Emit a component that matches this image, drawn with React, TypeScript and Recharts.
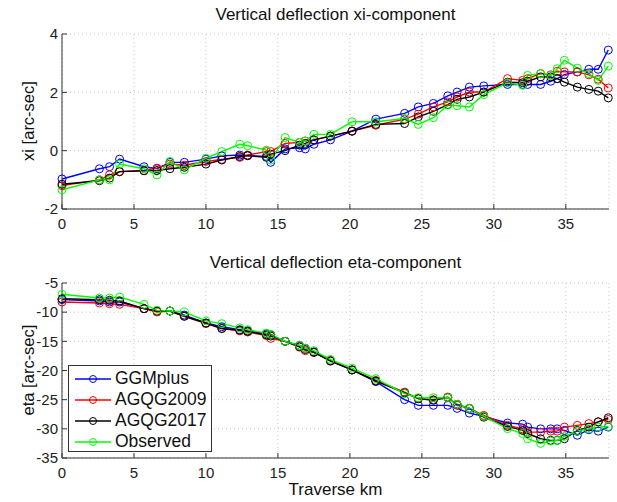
import React from 'react';
import { LineChart, Line, XAxis, YAxis, CartesianGrid } from 'recharts';

// traverse stations (km)
const km = [
  0, 2.6, 3.3, 4.0, 5.7, 6.6, 7.5, 8.5, 10.0, 11.1, 12.35, 12.9, 14.2, 14.5, 15.5, 16.5, 16.9, 17.5, 18.65, 20.15,
  21.8, 23.8, 24.75, 25.8, 26.8, 27.45, 28.3, 29.3, 30.95, 32.0, 32.35, 33.25, 33.95, 34.4, 34.9, 35.8, 36.6, 37.25, 37.95,
];

// xi-component [arc-sec]
const xiGGMplus = [
  -0.97, -0.62, -0.55, -0.29, -0.55, -0.62, -0.4, -0.4, -0.29, -0.18, -0.15, -0.17, -0.2, -0.4, 0.06, 0.1, 0.06, 0.22, 0.37, 0.67,
  1.08, 1.28, 1.5, 1.62, 1.88, 2.01, 2.18, 2.22, 2.27, 2.27, 2.27, 2.27, 2.38, 2.47, 2.61, 2.7, 2.79, 2.79, 3.45,
];
const xiAGQG2009 = [
  -1.2, -1.0, -0.83, -0.72, -0.68, -0.6, -0.46, -0.5, -0.37, -0.3, -0.23, -0.15, -0.03, -0.03, 0.25, 0.28, 0.33, 0.37, 0.5, 0.67,
  0.87, 1.08, 1.25, 1.5, 1.67, 1.84, 2.01, 2.01, 2.47, 2.41, 2.47, 2.64, 2.6, 2.72, 2.7, 2.7, 2.6, 2.45, 2.15,
];
const xiAGQG2017 = [
  -1.15, -1.03, -0.94, -0.72, -0.69, -0.68, -0.62, -0.57, -0.46, -0.32, -0.2, -0.17, -0.23, -0.12, 0.0, 0.19, 0.25, 0.37, 0.5, 0.67,
  0.9, 0.93, 1.16, 1.35, 1.58, 1.76, 1.84, 2.01, 2.35, 2.33, 2.38, 2.53, 2.53, 2.47, 2.35, 2.18, 2.1, 2.04, 1.81,
];
const xiObserved = [
  -1.34, -1.0, -1.0, -0.46, -0.62, -0.83, -0.37, -0.66, -0.26, -0.03, 0.22, 0.17, 0.02, -0.32, 0.45, 0.28, 0.33, 0.56, 0.56, 0.99,
  0.99, 1.1, 0.9, 1.13, 1.56, 1.54, 1.5, 1.92, 2.33, 2.24, 2.58, 2.64, 2.58, 2.81, 3.1, 2.83, 2.64, 2.41, 2.9,
];

// eta-component [arc-sec]
const etaGGMplus = [
  -7.85, -8.08, -8.26, -8.26, -9.4, -9.8, -9.8, -10.5, -11.86, -12.5, -13.0, -13.2, -13.7, -13.9, -15.0, -15.7, -16.2, -16.8, -18.3, -19.9,
  -21.9, -25.0, -25.97, -25.97, -25.97, -26.5, -27.3, -27.86, -29.0, -29.2, -29.7, -30.0, -30.0, -30.0, -30.27, -31.1, -30.15, -30.4, -29.7,
];
const etaAGQG2009 = [
  -8.26, -8.43, -8.55, -8.66, -9.4, -9.97, -9.8, -10.7, -11.97, -12.8, -13.2, -13.4, -14.0, -14.5, -15.0, -16.0, -16.6, -16.9, -18.3, -19.9,
  -21.7, -23.7, -24.83, -25.0, -24.55, -25.97, -26.5, -27.7, -29.4, -30.0, -30.56, -30.56, -30.4, -30.4, -29.7, -29.4, -29.1, -28.8, -28.4,
];
const etaAGQG2017 = [
  -7.7, -7.85, -7.97, -8.08, -9.4, -9.8, -9.8, -10.7, -11.86, -12.8, -13.1, -13.3, -13.9, -14.1, -15.0, -15.9, -16.4, -16.9, -18.4, -19.9,
  -21.8, -23.85, -24.83, -25.1, -24.66, -25.8, -26.5, -28.0, -29.6, -30.27, -30.8, -31.7, -31.97, -31.97, -31.7, -30.27, -29.7, -28.8, -28.1,
];
const etaObserved = [
  -6.94, -7.57, -7.57, -7.4, -8.65, -9.7, -9.8, -9.97, -11.5, -11.97, -12.7, -13.0, -13.6, -13.8, -15.0, -15.7, -16.2, -16.6, -18.1, -19.6,
  -21.4, -23.97, -24.66, -24.66, -24.66, -25.8, -26.5, -27.86, -29.97, -30.8, -31.7, -32.5, -32.1, -32.0, -31.3, -30.4, -30.0, -29.7, -29.6,
];

const xTicks = [0, 5, 10, 15, 20, 25, 30, 35];
const xiTicks = [-2, 0, 2, 4];
const etaTicks = [-35, -30, -25, -20, -15, -10, -5];

const SERIES = [
  { key: 'ggm', name: 'GGMplus', color: '#0000ff' },
  { key: 'a09', name: 'AGQG2009', color: '#ff0000' },
  { key: 'a17', name: 'AGQG2017', color: '#000000' },
  { key: 'obs', name: 'Observed', color: '#00ff00' },
];

const FONT = '"Liberation Sans", Arial, sans-serif';
const AXIS = '#333';

const xiData = km.map((x, i) => ({ x, ggm: xiGGMplus[i], a09: xiAGQG2009[i], a17: xiAGQG2017[i], obs: xiObserved[i] }));
const etaData = km.map((x, i) => ({ x, ggm: etaGGMplus[i], a09: etaAGQG2009[i], a17: etaAGQG2017[i], obs: etaObserved[i] }));

function Panel({ data, domain, ticks, marginTop }: { data: any[]; domain: [number, number]; ticks: number[]; marginTop: number }) {
  const tickStyle = { fill: '#222', fontSize: 15, fontFamily: FONT };
  return (
    <LineChart width={617} height={240} data={data} margin={{ top: marginTop, right: 8, bottom: 240 - 30 - marginTop - 175, left: 0 }}>
      <CartesianGrid stroke="#c8c8c8" strokeDasharray="1 3" />
      <XAxis
        dataKey="x"
        type="number"
        domain={[0, 38]}
        ticks={xTicks}
        height={30}
        tick={tickStyle}
        tickSize={-5}
        tickMargin={14}
        stroke={AXIS}
        interval={0}
      />
      <XAxis xAxisId="top" dataKey="x" type="number" orientation="top" domain={[0, 38]} ticks={xTicks} height={0} tick={false} tickSize={-5} stroke={AXIS} />
      <YAxis
        type="number"
        domain={domain}
        ticks={ticks}
        width={62}
        tick={tickStyle}
        tickSize={-5}
        tickMargin={9}
        stroke={AXIS}
        interval={0}
      />
      <YAxis yAxisId="right" orientation="right" type="number" domain={domain} ticks={ticks} width={0} tick={false} tickSize={-5} stroke={AXIS} />
      {SERIES.map(s => (
        <Line
          key={s.key}
          dataKey={s.key}
          name={s.name}
          stroke={s.color}
          strokeWidth={1.4}
          dot={{ r: 4, fill: 'none', stroke: s.color, strokeWidth: 1 }}
          isAnimationActive={false}
        />
      ))}
    </LineChart>
  );
}

export default function App() {
  const text = { position: 'absolute' as const, fontFamily: FONT, color: '#111', whiteSpace: 'nowrap' as const };
  return (
    <div style={{ position: 'absolute', left: 0, top: 0, width: 617, height: 502, background: '#fff', overflow: 'hidden' }}>
      <div style={{ position: 'absolute', left: 0, top: 0 }}>
        <Panel data={xiData} domain={[-2, 4]} ticks={xiTicks} marginTop={34} />
      </div>
      <div style={{ position: 'absolute', left: 0, top: 250 }}>
        <Panel data={etaData} domain={[-35, -5]} ticks={etaTicks} marginTop={33} />
      </div>

      <div style={{ ...text, left: 62, width: 547, top: 5, fontSize: 17, lineHeight: '20px', textAlign: 'center' }}>
        Vertical deflection xi-component
      </div>
      <div style={{ ...text, left: 62, width: 547, top: 253, fontSize: 17, lineHeight: '20px', textAlign: 'center' }}>
        Vertical deflection eta-component
      </div>
      <div style={{ ...text, left: 62, width: 547, top: 480, fontSize: 17, lineHeight: '20px', textAlign: 'center' }}>
        Traverse km
      </div>
      <div style={{ ...text, left: 28, top: 121, fontSize: 16.5, transform: 'translate(-50%, -50%) rotate(-90deg)' }}>
        xi [arc-sec]
      </div>
      <div style={{ ...text, left: 28, top: 370, fontSize: 16.5, transform: 'translate(-50%, -50%) rotate(-90deg)' }}>
        eta [arc-sec]
      </div>

      <div
        style={{
          position: 'absolute',
          left: 68,
          top: 365,
          width: 144,
          height: 87,
          border: `1px solid ${AXIS}`,
          background: '#fff',
          boxSizing: 'border-box',
          padding: '2px 0 0 0',
        }}
      >
        {SERIES.map(s => (
          <div key={s.key} style={{ display: 'flex', alignItems: 'center', height: 21 }}>
            <svg width={44} height={12} style={{ marginLeft: 6 }}>
              <line x1={0} y1={6} x2={36} y2={6} stroke={s.color} strokeWidth={1.4} />
              <circle cx={18} cy={6} r={3.5} fill="none" stroke={s.color} strokeWidth={1} />
            </svg>
            <span style={{ fontFamily: FONT, fontSize: 17.5, color: '#111', marginLeft: -4 }}>{s.name}</span>
          </div>
        ))}
      </div>
    </div>
  );
}
